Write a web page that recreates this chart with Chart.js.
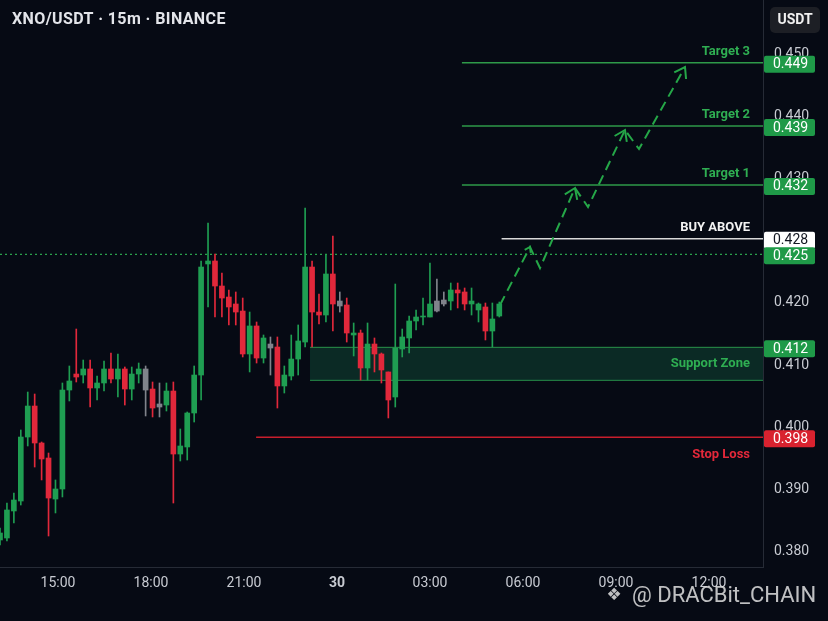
<!DOCTYPE html>
<html>
<head>
<meta charset="utf-8">
<script src="https://cdn.jsdelivr.net/npm/chart.js@4.4.1/dist/chart.umd.min.js"></script>
<style>
  html, body { margin: 0; padding: 0; background: #060a14; }
  #wrap { width: 828px; height: 621px; position: relative; }
</style>
</head>
<body>
<div id="wrap"><canvas id="c"></canvas></div>
<script>
// ---------- DATA ----------
const title = 'XNO/USDT · 15m · BINANCE';
const candleStart = 13.129;   // hour of first candle (Jan 29)
const candleStep = 0.2237;    // hours between candles as drawn
const opens = [0.38193,0.38225,0.38659,0.38819,0.39847,0.40345,0.39751,0.39510,0.38851,0.39012,
  0.40602,0.40859,0.40843,0.40940,0.40635,0.40715,0.40940,0.40779,0.40940,0.40618,
  0.40859,0.40940,0.40618,0.40378,0.40361,0.40586,0.39574,0.39687,0.40233,0.40843,
  0.42627,0.42675,0.42273,0.42096,0.41984,0.41871,0.41181,0.41631,0.41116,0.41341,
  0.41293,0.40667,0.40827,0.41100,0.41373,0.42578,0.41855,0.41807,0.42466,0.42032,
  0.41968,0.41486,0.41518,0.40956,0.41341,0.41181,0.40892,0.40490,0.41261,0.41438,
  0.41711,0.41775,0.41775,0.41871,0.42048,0.42032,0.42209,0.42177,0.41984,0.41888,
  0.41936,0.41550,0.41791];
const highs = [0.38386,0.38787,0.38948,0.39960,0.40570,0.40538,0.39767,0.39590,0.39157,0.40715,
  0.40988,0.41582,0.41084,0.41084,0.40827,0.41068,0.41197,0.41181,0.40972,0.40972,
  0.41036,0.40988,0.40731,0.40715,0.40715,0.40731,0.39976,0.40249,0.40988,0.42675,
  0.43285,0.42787,0.42482,0.42209,0.42177,0.42080,0.41855,0.41695,0.41486,0.41454,
  0.41454,0.40988,0.41486,0.41647,0.43526,0.42675,0.42145,0.42771,0.43076,0.42177,
  0.42080,0.41679,0.41566,0.41679,0.41438,0.41197,0.40892,0.42305,0.41582,0.41791,
  0.41888,0.42080,0.42643,0.42386,0.42177,0.42321,0.42321,0.42241,0.42241,0.42000,
  0.42000,0.42000,0.42016];
const lows = [0.38112,0.38177,0.38466,0.38755,0.39703,0.39365,0.39157,0.38257,0.38627,0.38884,
  0.40426,0.40731,0.40715,0.40329,0.40442,0.40586,0.40715,0.40490,0.40361,0.40442,
  0.40715,0.40185,0.40169,0.40169,0.40265,0.38787,0.39462,0.39478,0.40088,0.40442,
  0.41936,0.41775,0.41775,0.41647,0.41647,0.41133,0.40892,0.41036,0.41036,0.40843,
  0.40313,0.40554,0.40763,0.40843,0.41293,0.41293,0.41663,0.41695,0.41550,0.41855,
  0.41373,0.41149,0.40763,0.40763,0.40892,0.40715,0.40153,0.40329,0.41133,0.41197,
  0.41566,0.41647,0.41775,0.41855,0.41952,0.41888,0.41920,0.41888,0.41807,0.41695,
  0.41406,0.41293,0.41775];
const closes = [0.38305,0.38675,0.38835,0.39847,0.40345,0.39751,0.39494,0.38867,0.39012,0.40602,
  0.40747,0.40811,0.40940,0.40635,0.40715,0.40940,0.40779,0.40940,0.40618,0.40859,
  0.40940,0.40602,0.40313,0.40329,0.40586,0.39574,0.39703,0.40233,0.40843,0.42578,
  0.42675,0.42273,0.42080,0.41936,0.41855,0.41181,0.41631,0.41116,0.41438,0.41277,
  0.40667,0.40843,0.41100,0.41390,0.42578,0.41855,0.41807,0.42466,0.41984,0.41952,
  0.41518,0.41518,0.40956,0.41341,0.41181,0.40924,0.40442,0.41277,0.41454,0.41711,
  0.41775,0.41791,0.41984,0.42032,0.41984,0.42209,0.42161,0.41984,0.42032,0.41984,
  0.41550,0.41743,0.41984];
const greyCandles = [21, 23, 39, 49, 63, 64];

const xTickHours = [15, 18, 21, 24, 27, 30, 33, 36];
const xTickLabels = ['15:00', '18:00', '21:00', '30', '03:00', '06:00', '09:00', '12:00'];
const yTickValues = [0.38, 0.39, 0.40, 0.41, 0.42, 0.43, 0.44, 0.45, 0.46];
const yTickLabels = ['0.380', '0.390', '0.400', '0.410', '0.420', '0.425', '0.430', '0.440', '0.450'];

// trade plan levels (value on the drawn scale) and their printed prices
const target3 = 0.45860, target2 = 0.44843, target1 = 0.43896;
const buyAbove = 0.43033, lastPrice = 0.42782;
const zoneTop = 0.41288, zoneBottom = 0.40758, stopLoss = 0.39843;
const targetStart = 28.03, buyStart = 29.31, zoneStart = 23.13, stopStart = 21.39;
const levelPrices = ['0.449', '0.439', '0.432', '0.428', '0.425', '0.412', '0.398'];
// projected path (hour, price)
const pathHours = [29.258, 30.226, 30.548, 31.677, 32.097, 33.290, 33.742, 35.226];
const pathPrices = [0.41968, 0.42900, 0.42562, 0.43847, 0.43542, 0.44779, 0.44474, 0.45791];
const pathPeaks = [1, 3, 5, 7];

// ---------- STYLE ----------
const GREEN = '#1f9e52', RED = '#e1283b', GREY = '#80838b';
const LINE_GREEN = '#2e9a49', TEXT_GREEN = '#2fae52', TEXT_RED = '#e3283a';
const xMin = 13.129, xMax = 37.742, yMin = 0.377590, yMax = 0.468675;

const candleX = opens.map((_, i) => candleStart + i * candleStep);
const candleColor = opens.map((o, i) => greyCandles.includes(i) ? GREY : (closes[i] >= o ? GREEN : RED));

function hline(x0, x1, v) { return [{ x: x0, y: v }, { x: x1, y: v }]; }

const overlay = {
  id: 'overlay',
  afterDatasetsDraw(chart) {
    const { ctx, scales: { x, y }, chartArea } = chart;
    ctx.save();
    ctx.beginPath();
    ctx.rect(chartArea.left, chartArea.top, chartArea.right - chartArea.left, chartArea.bottom - chartArea.top);
    ctx.clip();
    // arrow heads on projection path
    ctx.strokeStyle = '#25a748';
    ctx.lineWidth = 2;
    ctx.setLineDash([]);
    pathPeaks.forEach((k, n) => {
      const px = x.getPixelForValue(pathHours[k]), py = y.getPixelForValue(pathPrices[k]);
      const qx = x.getPixelForValue(pathHours[k - 1]), qy = y.getPixelForValue(pathPrices[k - 1]);
      const ang = Math.atan2(py - qy, px - qx);
      const L = n === 0 ? 6 : 12, spread = 0.6;
      ctx.beginPath();
      ctx.moveTo(px - L * Math.cos(ang - spread), py - L * Math.sin(ang - spread));
      ctx.lineTo(px, py);
      ctx.lineTo(px - L * Math.cos(ang + spread), py - L * Math.sin(ang + spread));
      ctx.stroke();
    });
    // level captions
    const rx = chartArea.right - 13;
    ctx.textAlign = 'right';
    ctx.textBaseline = 'middle';
    ctx.font = 'bold 13px Roboto, "Noto Sans", sans-serif';
    const caps = [
      ['Target 3', target3, -11, TEXT_GREEN],
      ['Target 2', target2, -11, TEXT_GREEN],
      ['Target 1', target1, -11, TEXT_GREEN],
      ['BUY ABOVE', buyAbove, -11, '#f2f2f2'],
      ['Support Zone', (zoneTop + zoneBottom) / 2, 0, TEXT_GREEN],
      ['Stop Loss', stopLoss, 17, TEXT_RED]
    ];
    caps.forEach(([t, v, dy, c]) => {
      ctx.fillStyle = c;
      ctx.fillText(t, rx, y.getPixelForValue(v) + dy);
    });
    ctx.restore();
  },
  afterDraw(chart) {
    const { ctx, scales: { x, y }, chartArea } = chart;
    ctx.save();
    // price boxes on the axis
    const boxes = [
      [target3, levelPrices[0], '#1f9a48', '#ffffff'],
      [target2, levelPrices[1], '#1f9a48', '#ffffff'],
      [target1, levelPrices[2], '#1f9a48', '#ffffff'],
      [buyAbove, levelPrices[3], '#ffffff', '#131722'],
      [lastPrice, levelPrices[4], '#1f9a48', '#ffffff'],
      [zoneTop, levelPrices[5], '#1f9a48', '#ffffff'],
      [stopLoss, levelPrices[6], '#d9222f', '#ffffff']
    ];
    ctx.font = '14px Roboto, "Noto Sans", sans-serif';
    ctx.textBaseline = 'middle';
    ctx.textAlign = 'left';
    boxes.forEach(([v, t, bg, fg]) => {
      const cy = y.getPixelForValue(v) + 1;
      ctx.fillStyle = bg;
      ctx.beginPath();
      ctx.roundRect(chartArea.right + 1, cy - 8, 51, 17, 2);
      ctx.fill();
      ctx.fillStyle = fg;
      ctx.fillText(t, chartArea.right + 10, cy + 1);
    });
    // USDT box
    ctx.fillStyle = '#1d1f25';
    ctx.beginPath();
    ctx.roundRect(chartArea.right + 7, 7, 50, 26, 5);
    ctx.fill();
    ctx.fillStyle = '#f0f0f0';
    ctx.font = 'bold 14px Roboto, "Noto Sans", sans-serif';
    ctx.textAlign = 'center';
    ctx.fillText('USDT', chartArea.right + 32, 20.5);
    // title
    ctx.textAlign = 'left';
    ctx.fillStyle = '#e3e5ea';
    ctx.font = 'bold 16px Roboto, "Noto Sans", sans-serif';
    ctx.letterSpacing = '0.4px';
    ctx.fillText(title, 12, 20);
    ctx.letterSpacing = '0px';
    // watermark
    ctx.fillStyle = 'rgba(225,225,225,0.85)';
    ctx.font = '17px "DejaVu Sans", sans-serif';
    ctx.textAlign = 'center';
    ctx.fillText('❖', 614, 596);
    ctx.textAlign = 'left';
    ctx.font = '22px Roboto, "Noto Sans", sans-serif';
    ctx.fillText('@ DRACBit_CHAIN', 632, 596);
    ctx.restore();
  }
};

const datasets = [
  {
    type: 'bar', label: 'wicks', order: 1, grouped: false,
    data: candleX.map((h, i) => ({ x: h, y: [lows[i], highs[i]] })),
    backgroundColor: candleColor, barThickness: 1, borderWidth: 0
  },
  {
    type: 'bar', label: 'bodies', order: 0, grouped: false,
    data: candleX.map((h, i) => ({ x: h, y: [opens[i], closes[i]] })),
    backgroundColor: candleColor, barThickness: 5, borderWidth: 0, minBarLength: 1
  },
  { type: 'line', label: 'zoneTop', order: 3, data: hline(zoneStart, xMax, zoneTop),
    borderColor: 'rgba(46,160,80,0.9)', borderWidth: 1, pointRadius: 0, fill: '+1',
    backgroundColor: 'rgba(24,120,80,0.30)' },
  { type: 'line', label: 'zoneBottom', order: 3, data: hline(zoneStart, xMax, zoneBottom),
    borderColor: 'rgba(46,160,80,0.9)', borderWidth: 1, pointRadius: 0, fill: false },
  { type: 'line', label: 'last', order: 4, data: hline(xMin, xMax, lastPrice),
    borderColor: '#2aa24c', borderWidth: 1.3, borderDash: [2, 3], pointRadius: 0, fill: false },
  { type: 'line', label: 't3', order: 4, data: hline(targetStart, xMax, target3),
    borderColor: LINE_GREEN, borderWidth: 1.5, pointRadius: 0, fill: false },
  { type: 'line', label: 't2', order: 4, data: hline(targetStart, xMax, target2),
    borderColor: LINE_GREEN, borderWidth: 1.5, pointRadius: 0, fill: false },
  { type: 'line', label: 't1', order: 4, data: hline(targetStart, xMax, target1),
    borderColor: LINE_GREEN, borderWidth: 1.5, pointRadius: 0, fill: false },
  { type: 'line', label: 'buy', order: 4, data: hline(buyStart, xMax, buyAbove),
    borderColor: '#d8d8d8', borderWidth: 1.5, pointRadius: 0, fill: false },
  { type: 'line', label: 'stop', order: 4, data: hline(stopStart, xMax, stopLoss),
    borderColor: '#c81e2c', borderWidth: 1.5, pointRadius: 0, fill: false },
  { type: 'line', label: 'path', order: 2, data: pathHours.map((h, i) => ({ x: h, y: pathPrices[i] })),
    borderColor: '#25a748', borderWidth: 2, borderDash: [10, 6], pointRadius: 0, fill: false, tension: 0 }
];

new Chart(document.getElementById('c'), {
  type: 'bar',
  data: { datasets },
  plugins: [overlay],
  options: {
    responsive: true, maintainAspectRatio: false, animation: false,
    layout: { padding: 0 },
    plugins: { legend: { display: false }, tooltip: { enabled: false }, title: { display: false } },
    scales: {
      x: {
        type: 'linear', min: xMin, max: xMax, offset: false,
        afterBuildTicks: (s) => { s.ticks = xTickHours.map(v => ({ value: v })); },
        afterFit: (s) => { s.height = 54; s.paddingLeft = 0; s.paddingRight = 0; s.paddingTop = 0; s.paddingBottom = 0; },
        grid: { display: false, drawTicks: false },
        border: { display: true, color: '#262b36', width: 1 },
        ticks: {
          padding: 8, color: '#c8cbd2', maxRotation: 0, autoSkip: false,
          font: (c) => ({ family: 'Roboto', size: 14, weight: (c.tick && c.tick.label === '30') ? 'bold' : 'normal' }),
          callback: (v) => { const k = xTickHours.indexOf(v); return k >= 0 ? xTickLabels[k] : ''; }
        }
      },
      y: {
        type: 'linear', position: 'right', min: yMin, max: yMax,
        afterBuildTicks: (s) => { s.ticks = yTickValues.map(v => ({ value: v })); },
        afterFit: (s) => { s.width = 65; s.paddingTop = 0; s.paddingBottom = 0; s.paddingLeft = 0; s.paddingRight = 0; },
        grid: { display: false, drawTicks: false },
        border: { display: true, color: '#262b36', width: 1 },
        ticks: {
          padding: 11, color: '#c8cbd2', font: { family: 'Roboto', size: 14 },
          callback: (v) => { const k = yTickValues.findIndex(t => Math.abs(t - v) < 1e-9); return k >= 0 ? yTickLabels[k] : ''; }
        }
      }
    }
  }
});
</script>
</body>
</html>
